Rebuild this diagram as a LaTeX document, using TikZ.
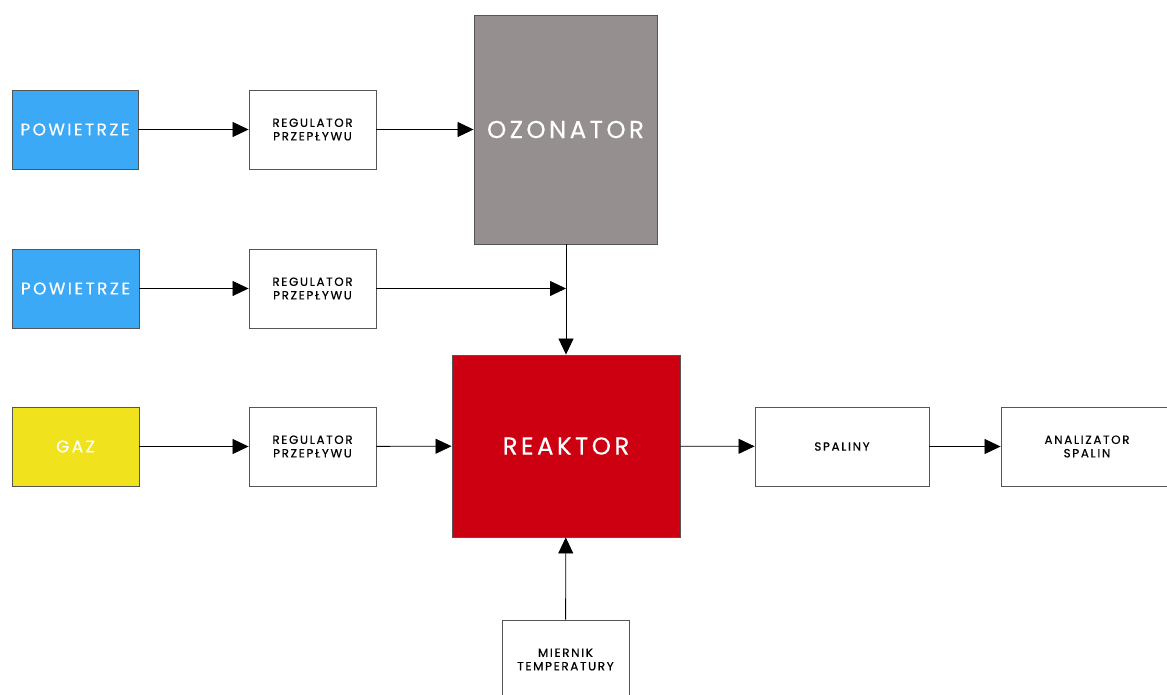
\documentclass[tikz,border=0pt]{standalone}
\usepackage{fontspec}
\setmainfont{Poppins}
\newfontfamily\lbl[LetterSpace=14,FakeBold=0.3]{Poppins}
\newfontfamily\lblsmall[LetterSpace=14,FakeBold=0.6]{Poppins}
\usetikzlibrary{arrows.meta}
\definecolor{cblue}{HTML}{3BA9F6}
\definecolor{cyellow}{HTML}{F0E31E}
\definecolor{cgray}{HTML}{958F90}
\definecolor{cred}{HTML}{CC0011}
\definecolor{cborder}{HTML}{555555}
\begin{document}
\begin{tikzpicture}[x=1pt,y=-1pt,
  box/.style={draw=cborder, line width=0.9pt, inner sep=0pt, align=center,
    font=\lblsmall\fontsize{11.9}{13.5}\selectfont, minimum width=127pt, minimum height=79pt},
  src/.style={box, text=white, font=\lbl\fontsize{17}{20}\selectfont},
  big/.style={draw=cborder, line width=0.9pt, inner sep=0pt, align=center, text=white,
    font=\lbl\fontsize{24.5}{30}\selectfont},
  flow/.style={line width=0.8pt, -{Triangle[length=16pt,width=15pt]}}]
\useasboundingbox (0,0) rectangle (1167,695);
\node[src, fill=cblue, minimum width=126pt] (pow1) at (75,129.5) {POWIETRZE};
\node[box] (reg1) at (312.5,129.5) {REGULATOR\\PRZEPŁYWU};
\node[big, fill=cgray, minimum width=183pt, minimum height=229pt] (ozon) at (565.5,129.5) {OZONATOR};
\node[src, fill=cblue] (pow2) at (75.5,288.5) {POWIETRZE};
\node[box] (reg2) at (312.5,288.5) {REGULATOR\\PRZEPŁYWU};
\node[big, fill=cred, minimum width=228pt, minimum height=182pt] (reak) at (566,446) {REAKTOR};
\node[src, fill=cyellow] (gaz) at (75.5,446.5) {GAZ};
\node[box] (reg3) at (312.5,446.5) {REGULATOR\\PRZEPŁYWU};
\node[box, minimum width=174pt] (spal) at (842,446.5) {SPALINY};
\node[box, minimum width=172pt] (anal) at (1087,446.5) {ANALIZATOR\\SPALIN};
\node[box] (mier) at (565.5,659.5) {MIERNIK\\TEMPERATURY};
\coordinate (join) at (reak.north |- reg2.east);
\draw[flow] (pow1) -- (reg1);
\draw[flow] (reg1) -- (ozon);
\draw[flow] (pow2) -- (reg2);
\draw[flow] (reg2) -- (join);
\draw[flow] (reak.north |- ozon.south) -- (reak.north);
\draw[flow] (gaz) -- (reg3);
\draw[flow] (reg3) -- (reak);
\draw[flow] (reak) -- (spal);
\draw[flow] (spal) -- (anal);
\draw[flow] (mier) -- (reak);
\end{tikzpicture}
\end{document}
